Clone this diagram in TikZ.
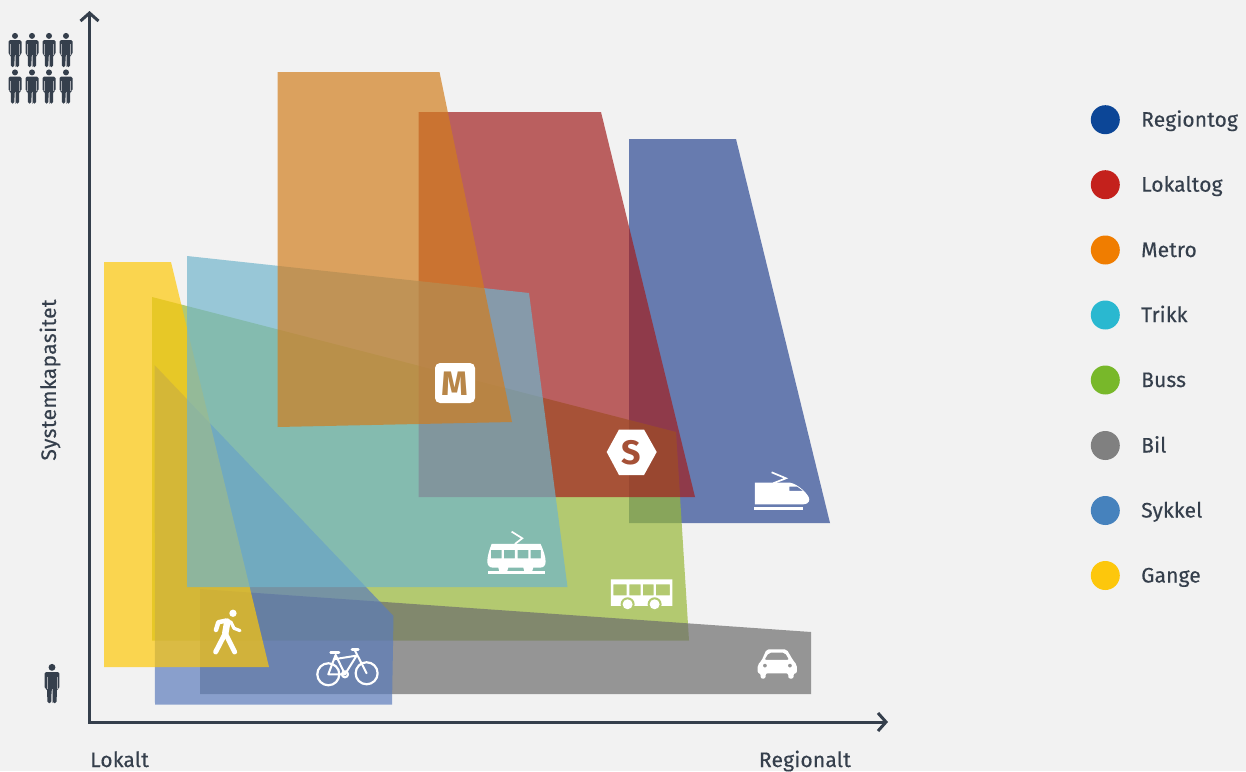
\documentclass[tikz,border=0pt]{standalone}
\usepackage{fontspec}
\setmainfont{Fira Sans}
\usetikzlibrary{arrows.meta}
\definecolor{bgc}{HTML}{F2F2F2}
\definecolor{ink}{HTML}{353F4C}
\definecolor{cReg}{HTML}{0C4697}
\definecolor{cLok}{HTML}{C4211C}
\definecolor{cMet}{HTML}{F07D00}
\definecolor{cTri}{HTML}{2AB8D0}
\definecolor{cBus}{HTML}{78B82A}
\definecolor{cBil}{HTML}{808080}
\definecolor{cSyk}{HTML}{4682BD}
\definecolor{cGan}{HTML}{FDC70C}
\definecolor{aReg}{RGB}{42,70,146}
\definecolor{aLok}{RGB}{162,30,30}
\definecolor{aMet}{RGB}{210,125,29}
\definecolor{aTri}{RGB}{112,181,204}
\definecolor{aBus}{RGB}{151,184,54}
\definecolor{aBil}{RGB}{108,108,108}
\definecolor{aSyk}{RGB}{91,123,187}
\definecolor{aGan}{RGB}{255,200,7}
\definecolor{greenOnly}{RGB}{179,202,112}
\tikzset{
  x=1pt,y=-1pt,
  area/.style={fill=#1,draw=none,opacity=.69},
  txt/.style={font=\fontsize{21}{25}\selectfont\addfontfeature{FakeBold=0.35},text=ink,inner sep=0pt},
  legdot/.style={circle,fill=#1,minimum size=29pt,inner sep=0pt,draw=none},
  axis/.style={draw=ink,line width=3pt,line join=miter,{Straight Barb[length=8pt,width=18pt,line width=3pt]}-{Straight Barb[length=8pt,width=18pt,line width=3pt]}},
  iconline/.style={draw=white,line cap=round,line join=round,fill=none},
  zoomed/.style={scale=0.3333,shift={#1}},
  pics/person/.style={code={
    \fill[ink] (0,2.9) circle (3);
    \fill[ink,rounded corners=1.5] (-6.5,7) -- (6.5,7) -- (6.5,21.5) -- (4.3,21.5) -- (4,34) -- (.7,34) -- (.3,22) -- (-.3,22) -- (-.7,34) -- (-4,34) -- (-4.3,21.5) -- (-6.5,21.5) -- cycle;
    \draw[bgc!60!ink,line width=.5pt] (-4.3,11) -- (-4.3,21.5) (4.3,11) -- (4.3,21.5) (0,22) -- (0,34);
  }}
}
\begin{document}
\begin{tikzpicture}
\useasboundingbox (0,0) rectangle (1246,771);
\fill[bgc] (0,0) rectangle (1246,771);

% coloured areas, bottom to top
\fill[area=aReg] (629,139) -- (736,139) -- (830,523) -- (629,523) -- cycle;
\fill[area=aBus] (152,297) -- (676,432) -- (689,640.5) -- (152,640.5) -- cycle;
\fill[area=aBil] (200,589) -- (811,632) -- (811,694) -- (200,694) -- cycle;
\fill[area=aSyk] (154.5,365) -- (393.5,616) -- (392,704.5) -- (155,704.5) -- cycle;
\fill[area=aGan] (104,262) -- (171,262) -- (269,667) -- (104,667) -- cycle;
\fill[area=aLok] (418.5,112) -- (601,112) -- (695,497) -- (418.5,497) -- cycle;
\fill[area=aTri] (187,256) -- (529,293) -- (567.5,587) -- (187,587) -- cycle;
\fill[area=aMet] (277.5,72) -- (439.5,72) -- (512,422) -- (277.5,427) -- cycle;

% axes
\coordinate (origin) at (89.5,722);
\coordinate (ytop) at (89.5,11);
\coordinate (xend) at (888,722);
\draw[axis] (ytop) -- (origin) -- (xend);

% people
\foreach \px in {15,32,49,66}{
  \pic at (\px,33) {person};
  \pic at (\px,69.5) {person};
}
\pic[scale=1.15] at (52,664) {person};

% labels
\node[txt,rotate=90] (ylab) at (50,380) {\addfontfeature{LetterSpace=2}Systemkapasitet};
\node[txt,anchor=base west] (lokalt) at (90,767) {\addfontfeature{LetterSpace=1}Lokalt};
\node[txt,anchor=base east] (regionalt) at (851,767) {\addfontfeature{LetterSpace=1}Regionalt};

% legend
\foreach \n/\c/\yy/\t in {a/cReg/119.7/Regiontog,b/cLok/184.7/Lokaltog,c/cMet/250/Metro,d/cTri/315/Trikk,e/cBus/380/Buss,f/cBil/445.5/Bil,g/cSyk/510.5/Sykkel,h/cGan/575.5/Gange}{
  \node[legdot=\c] (dot\n) at (1105.3,\yy) {};
  \node[txt,anchor=base west] (leg\n) at (1141,\yy+7) {\addfontfeature{LetterSpace=.6}\t};
}

% metro sign
\fill[white,rounded corners=5pt] (435,363) rectangle (475,403);
\node[inner sep=0pt,text={rgb,255:red,184;green,134;blue,72},font=\fontsize{34}{34}\selectfont\bfseries] (mlabel) at (455,383.5) {M};
% s-tog sign
\fill[white] (606.7,452) -- (619,429.5) -- (644,429.5) -- (656.7,452) -- (644,475) -- (619,475) -- cycle;
\node[inner sep=0pt,text={rgb,255:red,165;green,80;blue,54},font=\fontsize{34}{34}\selectfont\bfseries] (slabel) at (631.5,452.5) {S};

% walker
\begin{scope}[zoomed={(570,1770)}]
\fill[white] (129,70) circle (11);
\draw[iconline,line width=4.5pt] (108,92) -- (85,97) -- (78,120);
\draw[iconline,line width=3.2pt] (122,95) -- (132,115) -- (150,122);
\draw[iconline,line width=6.5pt] (112,95) -- (106,130);
\draw[iconline,line width=5pt] (106,130) -- (77,186);
\draw[iconline,line width=5pt] (106,130) -- (134,186);
\end{scope}

% bicycle
\begin{scope}[zoomed={(570,1770)}]
\draw[iconline,line width=2.2pt] (415,253) circle (33) (530,250) circle (33) (465,253) circle (9);
\draw[iconline,line width=2pt] (415,253) -- (437,195) -- (465,253) -- cycle;
\draw[iconline,line width=2pt] (432,208) -- (500,197) -- (465,253);
\draw[iconline,line width=2pt] (495,182) -- (530,250);
\draw[iconline,line width=2.6pt] (422,187) -- (447,187);
\draw[iconline,line width=2.6pt] (486,179) -- (505,179);
\end{scope}

% tram
\begin{scope}[zoomed={(1440,1560)}]
\fill[white,even odd rule] (35,72) -- (182,72) .. controls (190,90) and (197,110) .. (197,125) .. controls (197,138) and (190,143) .. (180,143) -- (160,143) -- (157,153) -- (133,153) -- (130,143) -- (85,143) -- (82,153) -- (58,153) -- (55,143) -- (38,143) .. controls (28,143) and (22,135) .. (22,125) .. controls (22,110) and (28,90) .. (35,72) -- cycle
 (33,90) rectangle (65,115) (72,90) rectangle (105,115) (113,90) rectangle (145,115) (152,90) rectangle (183,115);
\fill[white] (25,152) rectangle (195,161);
\draw[iconline,line width=1.7pt,line cap=butt,line join=miter] (95,35) -- (127,55) -- (105,72);
\end{scope}

% bus
\begin{scope}[zoomed={(1440,1560)}]
\fill[white,even odd rule] (393,178) rectangle (577,258)
 (400,193) rectangle (440,226) (448,193) rectangle (482,226) (489,193) rectangle (521,226) (528,193) rectangle (570,226);
\fill[greenOnly] (443,253) circle (21) (524,253) circle (21);
\fill[white] (443,253) circle (15) (524,253) circle (15);
\end{scope}

% train
\begin{scope}[zoomed={(2220,1380)}]
\fill[white,even odd rule] (45,68) -- (150,68) .. controls (175,72) and (208,105) .. (208,118) .. controls (208,128) and (200,133) .. (190,133) -- (45,133) -- cycle
 (148,80) -- (172,80) -- (190,93) -- (148,93) -- cycle;
\fill[white] (42,141) rectangle (188,150);
\draw[iconline,line width=1.7pt,line cap=butt,line join=miter] (95,37) -- (138,55) -- (100,70);
\end{scope}

% car
\begin{scope}[zoomed={(2235,1920)}]
\fill[white,even odd rule,rounded corners=2pt] (65,28) -- (125,28) -- (145,62) -- (156,75) -- (156,100) -- (146,100) -- (146,116) -- (130,116) -- (130,100) -- (62,100) -- (62,116) -- (47,116) -- (47,100) -- (38,100) -- (38,75) -- (50,62) -- cycle
 (72,38) -- (120,38) -- (133,60) -- (58,60) -- cycle
 (60,77) circle (6) (135,77) circle (6);
\end{scope}
\end{tikzpicture}
\end{document}
